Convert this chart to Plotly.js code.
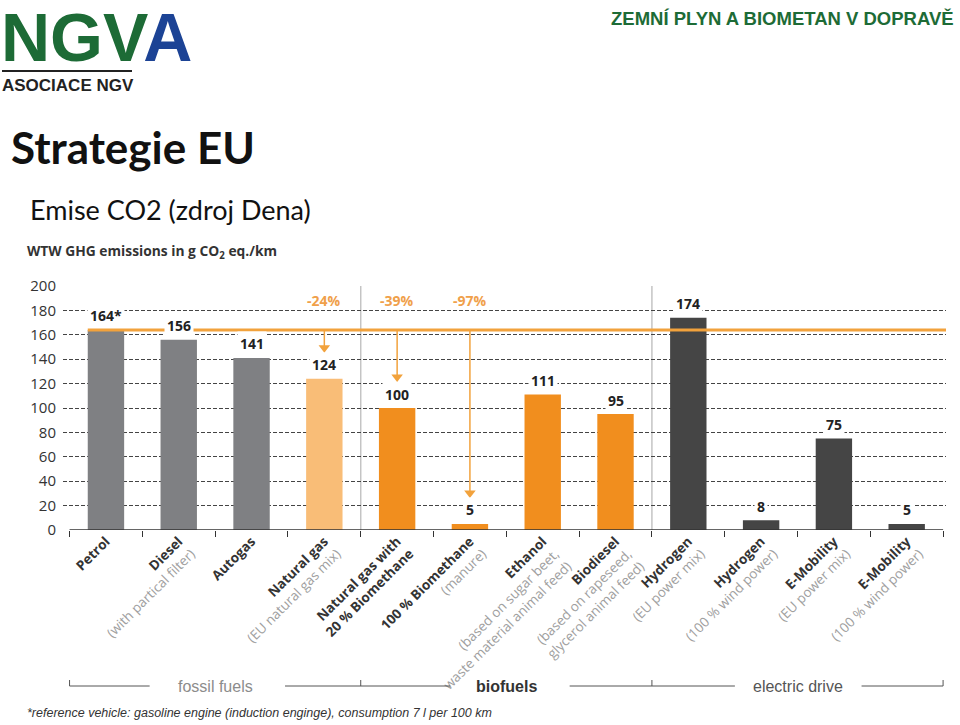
<!DOCTYPE html>
<html>
<head>
<meta charset="utf-8">
<script src="https://cdn.plot.ly/plotly-3.0.1.min.js"></script>
<style>html,body{margin:0;padding:0;background:#fff;}#chart{width:960px;height:725px;}</style>
</head>
<body>
<div id="chart"></div>
<script>
// ---------- data ----------
const categories = ['Petrol','Diesel','Autogas','Natural gas','Natural gas with 20% Biomethane','100% Biomethane','Ethanol','Biodiesel','Hydrogen (EU power mix)','Hydrogen (100% wind power)','E-Mobility (EU power mix)','E-Mobility (100% wind power)'];
const values = [164,156,141,124,100,5,111,95,174,8,75,5];
const tickMain = ['Petrol','Diesel','Autogas','Natural gas','Natural gas with<br>20 % Biomethane','100 % Biomethane','Ethanol','Biodiesel','Hydrogen','Hydrogen','E-Mobility','E-Mobility'];
const tickSub = ['','(with partical filter)','','(EU natural gas mix)','','(manure)','(based on sugar beet,<br>waste material animal feed)','(based on rapeseed,<br>glycerol animal feed)','(EU power mix)','(100 % wind power)','(EU power mix)','(100 % wind power)'];
const referenceValue = 164;           // reference vehicle (Petrol)
const referenceMark = ['*','','','','','','','','','','',''];
const reductionCats = ['Natural gas','Natural gas with 20% Biomethane','100% Biomethane'];
const reductionText = ['-24%','-39%','-97%'];
const groupNames = ['fossil fuels','biofuels','electric drive'];
const groupCenters = [1.5, 5.5, 9.5];  // category-index centres of groups
const yTicks = [0,20,40,60,80,100,120,140,160,180,200];

// ---------- style ----------
const barColors = ['#7f8083','#7f8083','#7f8083','#f9bd77','#f18e1e','#f18e1e','#f18e1e','#f18e1e','#454545','#454545','#454545','#454545'];
const ORANGE = '#f2a23c';
const NARROW = '"Liberation Sans Narrow", "Liberation Sans", sans-serif';
const SANS = '"Open Sans", "Noto Sans", sans-serif';

// plot area in pixels
const L = 63, R = 946, T = 286, B = 530;
const PX = (px) => (px - L) / (R - L);
const PY = (py) => (B - py) / (B - T);
const pxPerUnit = (B - T) / 200;

const tickText = tickMain.map((m, i) => {
  const main = m.split('<br>').map(s => '<b>' + s + '</b>').join('<br>');
  const sub = tickSub[i] ? '<br>' + tickSub[i].split('<br>').map(s => '<span style="color:#a0a0a0">' + s + '</span>').join('<br>') : '';
  return main + sub;
});

const barTrace = {
  type: 'bar',
  x: categories,
  y: values,
  width: 0.5,
  marker: {color: barColors},
  hoverinfo: 'x+y'
};

// reduction arrows (stem + head) from the reference line down to each label
const arrowX = [], arrowY = [], headX = [], headY = [];
reductionCats.forEach(c => {
  const v = values[categories.indexOf(c)];
  const end = v + 31 / pxPerUnit;
  arrowX.push(c, c, null);
  arrowY.push(referenceValue, end, null);
  headX.push(c);
  headY.push(end);
});
const arrowStem = {type: 'scatter', mode: 'lines', x: arrowX, y: arrowY, line: {color: ORANGE, width: 1.5}, hoverinfo: 'skip'};
const arrowHead = {type: 'scatter', mode: 'markers', x: headX, y: headY, marker: {symbol: 'triangle-down', size: 10, color: ORANGE, line: {width: 0}}, hoverinfo: 'skip'};

const annotations = [];
// value labels
categories.forEach((c, i) => {
  annotations.push({
    x: c, y: values[i], xref: 'x', yref: 'y', yanchor: 'middle', yshift: 14,
    text: '<b>' + values[i] + referenceMark[i] + '</b>', showarrow: false,
    bgcolor: '#ffffff', borderpad: 2,
    font: {family: SANS, size: 14, color: '#222'}
  });
});
// reduction percentages
reductionCats.forEach((c, k) => {
  annotations.push({
    x: c, y: PY(300), xref: 'x', yref: 'paper', yanchor: 'middle', text: '<b>' + reductionText[k] + '</b>', showarrow: false,
    font: {family: SANS, size: 14, color: '#f0a04a'}
  });
});
// group labels
groupNames.forEach((g, k) => {
  annotations.push({
    x: groupCenters[k], y: PY(686), xref: 'x', yref: 'paper', yanchor: 'middle', text: k === 1 ? '<b>' + g + '</b>' : g,
    showarrow: false, font: {family: NARROW, size: 16, color: ['#8c8c8c', '#333333', '#555555'][k]}
  });
});
// header texts
annotations.push(
  {x: PX(-1), y: PY(37), xref: 'paper', yref: 'paper', xanchor: 'left', yanchor: 'middle', showarrow: false,
   text: '<b><span style="color:#1d6b36">NGV</span><span style="color:#1c4395">A</span></b>',
   font: {family: NARROW, size: 68, color: '#1d6b36'}},
  {x: PX(0), y: PY(85), xref: 'paper', yref: 'paper', xanchor: 'left', yanchor: 'middle', showarrow: false,
   text: '<b>ASOCIACE NGV</b>', font: {family: NARROW, size: 17, color: '#222'}},
  {x: PX(956), y: PY(19), xref: 'paper', yref: 'paper', xanchor: 'right', yanchor: 'middle', showarrow: false,
   text: '<b>ZEMNÍ PLYN A BIOMETAN V DOPRAVĚ</b>', font: {family: NARROW, size: 18.5, color: '#1d6b36'}},
  {x: PX(9), y: PY(147), xref: 'paper', yref: 'paper', xanchor: 'left', yanchor: 'middle', showarrow: false,
   text: '<b>Strategie EU</b>', font: {family: 'Lato, "Open Sans", sans-serif', size: 44, color: '#111'}},
  {x: PX(28), y: PY(209), xref: 'paper', yref: 'paper', xanchor: 'left', yanchor: 'middle', showarrow: false,
   text: 'Emise CO2 (zdroj Dena)', font: {family: 'Lato, "Open Sans", sans-serif', size: 27, color: '#111'}},
  {x: PX(25), y: PY(251), xref: 'paper', yref: 'paper', xanchor: 'left', yanchor: 'middle', showarrow: false,
   text: '<b>WTW GHG emissions in g CO<sub>2</sub> eq./km</b>', font: {family: SANS, size: 13.8, color: '#333'}},
  {x: PX(25), y: PY(713), xref: 'paper', yref: 'paper', xanchor: 'left', yanchor: 'middle', showarrow: false,
   text: '<i>*reference vehicle: gasoline engine (induction enginge), consumption 7 l per 100 km</i>',
   font: {family: NARROW, size: 12.5, color: '#333'}}
);

const shapes = [
  // separators
  {type: 'line', xref: 'x', yref: 'y', x0: 3.5, x1: 3.5, y0: 0, y1: 200, line: {color: '#c4c4c4', width: 1.5}, layer: 'below'},
  {type: 'line', xref: 'x', yref: 'y', x0: 7.5, x1: 7.5, y0: 0, y1: 200, line: {color: '#c4c4c4', width: 1.5}, layer: 'below'},
  // reference line
  {type: 'line', xref: 'x', yref: 'y', x0: -0.25, x1: 11.54, y0: referenceValue, y1: referenceValue, line: {color: ORANGE, width: 3}, layer: 'above'},
  // baseline
  {type: 'line', xref: 'x', yref: 'y', x0: -0.5, x1: 11.5, y0: 0, y1: 0, line: {color: '#333', width: 1.5}, layer: 'above'},
  // header underline
  {type: 'line', xref: 'paper', yref: 'paper', x0: PX(2), x1: PX(132), y0: PY(71), y1: PY(71), line: {color: '#222', width: 2}}
];
// group brackets
[[-0.5, 0.6], [2.46, 4.73], [6.37, 8.64], [10.38, 11.5]].forEach(s => {
  shapes.push({type: 'line', xref: 'x', yref: 'paper', x0: s[0], x1: s[1], y0: PY(686), y1: PY(686), line: {color: '#555', width: 1}});
});
[-0.5, 3.5, 7.5, 11.5].forEach(x => {
  shapes.push({type: 'line', xref: 'x', yref: 'paper', x0: x, x1: x, y0: PY(686), y1: PY(680), line: {color: '#555', width: 1}});
});

const layout = {
  width: 960, height: 725,
  margin: {l: L, r: 960 - R, t: T, b: 725 - B, pad: 0},
  paper_bgcolor: '#fff', plot_bgcolor: '#fff',
  showlegend: false,
  xaxis: {
    type: 'category', range: [-0.59, 11.54], tickvals: categories, ticktext: tickText,
    tickangle: -45, tickson: 'boundaries', ticks: 'outside', ticklen: 6, tickcolor: '#333', tickwidth: 1,
    showgrid: false, showline: false, zeroline: false,
    tickfont: {family: SANS, size: 13.5, color: '#333'}, fixedrange: true
  },
  yaxis: {
    range: [0, 200], tickvals: yTicks, showgrid: true, gridcolor: '#444', gridwidth: 1, griddash: '4px,2px',
    zeroline: false, showline: false, ticks: '', ticklabelstandoff: 6,
    tickfont: {family: SANS, size: 15, color: '#333'}, fixedrange: true
  },
  annotations: annotations,
  shapes: shapes
};

Plotly.newPlot('chart', [barTrace, arrowStem, arrowHead], layout, {displayModeBar: false, staticPlot: true});
</script>
</body>
</html>
